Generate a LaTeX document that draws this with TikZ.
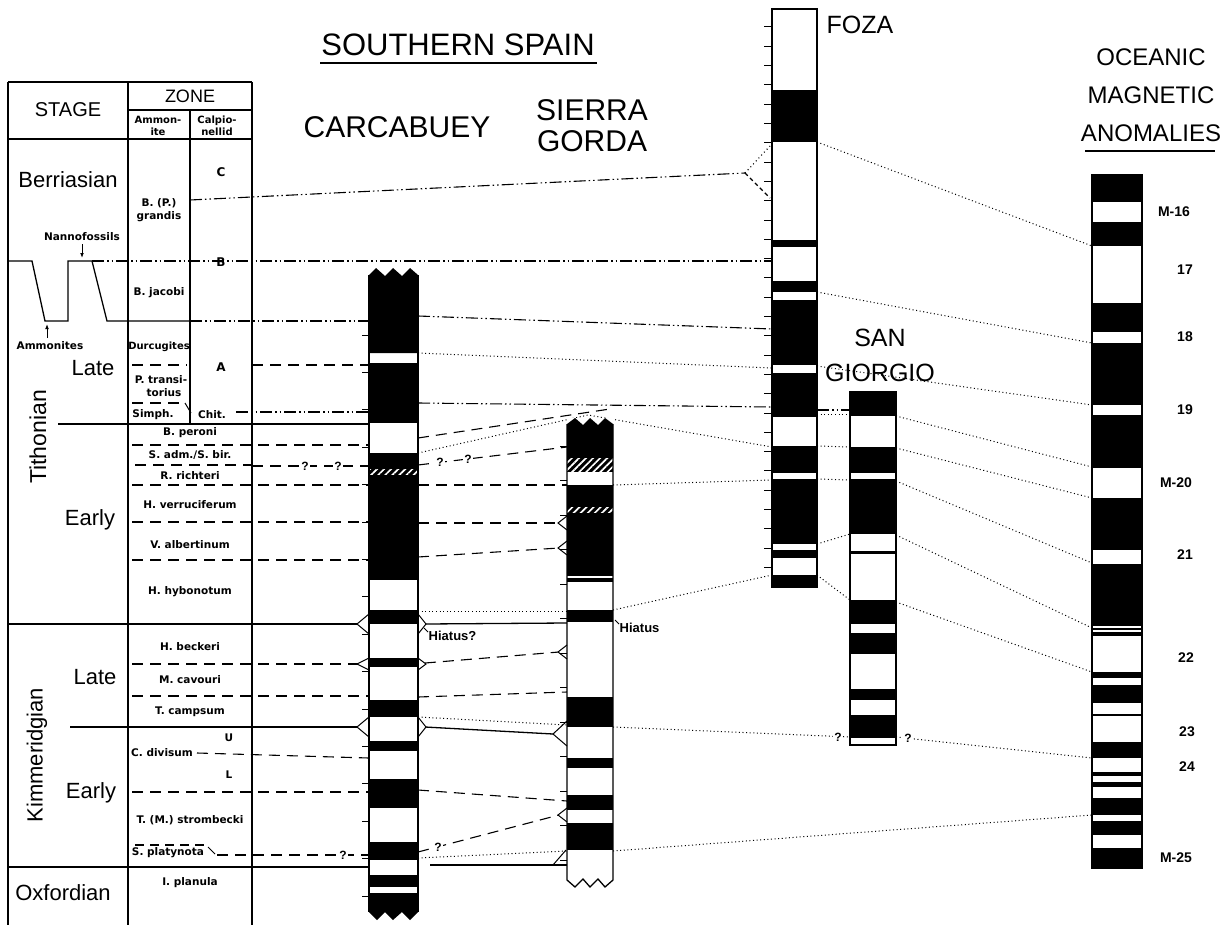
\documentclass[tikz,border=0pt]{standalone}
\usepackage{fontspec}
\setmainfont{Liberation Sans}
\newfontfamily\zonefont{DejaVu Sans}
\usetikzlibrary{arrows.meta, patterns.meta}

\begin{document}
\begin{tikzpicture}[
    x=1pt, y=-1pt,
    rule/.style={line width=1.5pt},
    stageline/.style={line width=1.3pt},
    zoneline/.style={line width=1.1pt, dash pattern=on 11pt off 7pt},
    calpline/.style={line width=1.1pt, dash pattern=on 12pt off 3pt on 1.5pt off 3pt on 1.5pt off 3pt},
    magline/.style={line width=1pt, dash pattern=on 1pt off 2.6pt},
    colrule/.style={line width=1.3pt},
    tick/.style={line width=1pt},
    hatch/.style={pattern={Lines[angle=45, distance=5pt, line width=1.7pt]}, pattern color=white},
    head/.style={font=\fontsize{30}{31}\selectfont, inner sep=0pt, align=center},
    stage/.style={font=\fontsize{22}{24}\selectfont, inner sep=0pt},
    zone/.style={font=\zonefont\bfseries\fontsize{10.5}{13}\selectfont, inner sep=0.5pt, align=center},
    calp/.style={font=\zonefont\bfseries\fontsize{12}{14}\selectfont, inner sep=0pt},
    anom/.style={font=\bfseries\fontsize{14}{16}\selectfont, inner sep=0pt},
    qmark/.style={font=\bfseries\fontsize{12}{12}\selectfont, inner sep=1pt, fill=white},
    every node/.style={inner sep=1pt}
]
\useasboundingbox (0,0) rectangle (1225,931);

% Titles
\node[head, font=\fontsize{31}{32}\selectfont] (spain) at (458,45) {SOUTHERN SPAIN};
\draw[line width=1.3pt] (320,63) -- (597,63);
\node[head] (carcabuey) at (397,127) {CARCABUEY};
\node[head] (sierra) at (592,126) {SIERRA\\GORDA};
\node[head, font=\fontsize{25}{26}\selectfont] (foza) at (860,25) {FOZA};
\node[head, font=\fontsize{25}{35}\selectfont] (giorgio) at (880,355) {SAN\\GIORGIO};
\node[head, font=\fontsize{24}{38}\selectfont] (oceanic) at (1151,95) {OCEANIC\\MAGNETIC\\ANOMALIES};
\draw[line width=1.3pt] (1085,151) -- (1215,151);

% Stage / zone table
\draw[rule] (8,82) -- (252,82);
\draw[rule] (8,82) -- (8,925);
\draw[rule] (128,82) -- (128,925);
\draw[rule] (252,82) -- (252,925);
\draw[rule] (128,110) -- (252,110);
\draw[rule] (190,110) -- (190,424);
\draw[rule] (8,139) -- (252,139);
\node[font=\fontsize{20}{22}\selectfont, inner sep=0pt] (stagehd) at (68,110) {STAGE};
\node[font=\fontsize{18}{20}\selectfont, inner sep=0pt] (zonehd) at (190,96) {ZONE};
\node[zone, font=\zonefont\bfseries\fontsize{10}{12}\selectfont] (ammhd) at (158,126) {Ammon-\\ite};
\node[zone, font=\zonefont\bfseries\fontsize{10}{12}\selectfont] (calphd) at (217,126) {Calpio-\\nellid};

% Stage names
\node[stage] (berr) at (68,180) {Berriasian};
\node[stage] (tlate) at (93,368) {Late};
\node[stage] (tearly) at (90,520) {Early};
\node[stage, rotate=90, font=\fontsize{23}{24}\selectfont] (tith) at (38,437) {Tithonian};
\node[stage] (klate) at (95,677) {Late};
\node[stage] (kearly) at (91,793) {Early};
\node[stage, rotate=90] (kimm) at (37,755) {Kimmeridgian};
\node[stage] (oxf) at (63,893) {Oxfordian};

% Calpionellid zones
\node[calp] (zc) at (221,172) {C};
\node[calp] (zb) at (221,262) {B};
\node[calp] (za) at (221,367) {A};
\node[zone] (chit) at (212,415) {Chit.};

% Ammonite zones
\node[zone] (grandis) at (159,210) {B. (P.)\\grandis};
\node[zone] (jacobi) at (159,293) {B. jacobi};
\node[zone, font=\zonefont\bfseries\fontsize{10}{13}\selectfont] (durc) at (159,347) {Durcugites};
\node[zone] (transi) at (161,386) {P. transi-\\\hspace*{6pt}torius};
\node[zone] (simph) at (153,415) {Simph.};
\node[zone] (peroni) at (190,433) {B. peroni};
\node[zone] (sadm) at (190,455) {S. adm./S. bir.};
\node[zone] (richteri) at (190,476) {R. richteri};
\node[zone] (verru) at (190,505) {H. verruciferum};
\node[zone] (albert) at (190,545) {V. albertinum};
\node[zone] (hybo) at (190,592) {H. hybonotum};
\node[zone] (becker) at (190,647) {H. beckeri};
\node[zone] (cavour) at (190,680) {M. cavouri};
\node[zone] (campsum) at (190,712) {T. campsum};
\node[zone] (divisum) at (162,753) {C. divisum};
\node[zone] (zu) at (229,738) {U};
\node[zone] (zl) at (229,775) {L};
\node[zone] (strombecki) at (190,820) {T. (M.) strombecki};
\node[zone] (platy) at (168,853) {S. platynota};
\node[zone] (planula) at (190,883) {I. planula};

% Nannofossil / ammonite boundary
\draw[stageline] (8,261) -- (32,261) -- (45,321) -- (68,321) -- (68,261) -- (92,261) -- (107,321) -- (190,321);
\node[zone] (nanno) at (82,237) {Nannofossils};
\draw[-{Latex[length=5pt]}, line width=1pt] (82,244) -- (82,258);
\node[zone] (ammo) at (50,346) {Ammonites};
\draw[-{Latex[length=5pt]}, line width=1pt] (47,338) -- (47,324);

% Stage boundaries
\draw[stageline] (58,424) -- (369,424);
\draw[stageline] (8,624) -- (357,624);
\draw[stageline] (70,727) -- (357,727);
\draw[stageline] (8,867) -- (369,867);

% Calpionellid boundaries
\draw[calpline] (190,200) -- (745,173);
\draw[calpline, dash pattern=on 1pt off 3pt] (745,173) -- (770,146);
\draw[calpline, dash pattern=on 4pt off 3pt] (745,173) -- (770,198);
\draw[calpline] (92,261) -- (772,261);
\draw[calpline] (190,321) -- (369,321);
\draw[calpline] (418,316) -- (772,329);
\draw[calpline] (236,412) -- (369,412);
\draw[calpline] (418,403) -- (772,407);
\draw[calpline] (817,410) -- (850,410);

% Ammonite zone boundaries, table to Carcabuey
\draw[zoneline] (132,365) -- (187,365);
\draw[zoneline] (252,365) -- (369,365);
\draw[zoneline] (132,403) -- (185,403);
\draw[line width=1pt] (185,403) -- (191,413);
\draw[zoneline] (132,445) -- (369,445);
\draw[zoneline] (135,465) -- (252,465);
\draw[zoneline] (252,466) -- (369,466);
\node[qmark] (q1) at (305,466) {?};
\node[qmark] (q2) at (338,466) {?};
\draw[zoneline] (132,485) -- (369,485);
\draw[zoneline] (132,522) -- (369,522);
\draw[zoneline] (132,560) -- (369,560);
\draw[zoneline] (132,664) -- (358,664);
\draw[zoneline] (132,696) -- (369,696);
\draw[zoneline] (197,753) -- (369,758);
\draw[zoneline] (132,792) -- (369,792);
\draw[zoneline, dash pattern=on 9pt off 6pt] (135,845) -- (205,845);
\draw[line width=1pt] (208,847) -- (215,854);
\draw[zoneline] (217,855) -- (369,855);
\node[qmark] (q3) at (343,855) {?};

% Carcabuey to Sierra Gorda and Foza
\draw[magline] (418,353) -- (772,368);
\draw[zoneline] (418,438) -- (610,409);
\draw[magline] (418,453) -- (588,415) -- (772,447);
\draw[zoneline] (418,465) -- (567,447);
\node[qmark] (q4) at (440,462) {?};
\node[qmark] (q5) at (468,459) {?};
\draw[zoneline] (418,485) -- (567,485);
\draw[zoneline] (418,523) -- (559,523);
\draw[zoneline] (418,557) -- (559,548);
\draw[magline] (418,611) -- (567,611);
\draw[stageline] (425,624) -- (567,623);
\draw[zoneline] (425,663) -- (559,652);
\draw[zoneline] (418,697) -- (567,692);
\draw[magline] (418,717) -- (567,725);
\draw[stageline] (425,727) -- (553,734);
\draw[zoneline] (418,790) -- (567,801);
\draw[zoneline] (418,852) -- (559,815);
\node[qmark] (q6) at (438,847) {?};
\draw[magline] (418,858) -- (567,851);
\draw[stageline] (430,865) -- (567,865);
\draw[line width=1pt] (553,865) -- (566,850);

% Sierra Gorda to Foza, San Giorgio and anomalies
\draw[magline] (613,485) -- (772,480);
\draw[magline] (613,610) -- (772,575);
\draw[magline] (613,727) -- (850,737);
\node[qmark] (q7) at (838,737) {?};
\draw[magline] (896,737) -- (1092,758);
\node[qmark] (q8) at (908,738) {?};
\draw[magline] (613,851) -- (1092,815);

% Foza to San Giorgio and anomalies
\draw[magline] (817,142) -- (1092,246);
\draw[magline] (817,292) -- (1092,343);
\draw[magline] (817,366) -- (1092,405);
\draw[magline] (817,414) -- (850,414);
\draw[magline] (896,416) -- (1092,467);
\draw[magline] (817,446) -- (850,447);
\draw[magline] (896,448) -- (1092,498);
\draw[magline] (817,479) -- (850,480);
\draw[magline] (896,481) -- (1092,563);
\draw[magline] (817,544) -- (850,534);
\draw[magline] (896,535) -- (1092,628);
\draw[magline] (817,575) -- (850,600);
\draw[magline] (896,602) -- (1092,672);

% Carcabuey section
\fill[white] (369,270) rectangle (418,915);
\fill (369,275) -- (376,268) -- (385,276) -- (393,268) -- (402,276) -- (410,268) -- (418,275) -- (418,353) -- (369,353) -- cycle;
\foreach \a/\b in {363/423, 453/580, 610/624, 658/667, 700/717, 741/751, 779/808, 842/860, 875/887}
    \fill (369,\a) rectangle (418,\b);
\fill (369,893) -- (418,893) -- (418,912) -- (410,920) -- (402,912) -- (393,920) -- (385,912) -- (377,920) -- (369,912) -- cycle;
\fill[hatch] (369,469) rectangle (418,474);
\draw[colrule] (369,275) -- (369,912);
\draw[colrule] (418,275) -- (418,912);
\foreach \y in {335,372.4,...,900}
    \draw[tick] (362,\y) -- (369,\y);
\foreach \y/\h in {624/10, 664/6, 727/10} {
    \draw[line width=1pt] (369,\y-\h) -- (357,\y) -- (369,\y+\h);
    \draw[line width=1pt] (418,\y-\h) -- (426,\y) -- (418,\y+\h);
}
\draw[line width=0.8pt] (424,628) -- (428,632);
\node[zone, font=\bfseries\fontsize{13}{14}\selectfont, anchor=west] (hiatus1) at (428,636) {Hiatus?};

% Sierra Gorda section
\fill[white] (567,418) rectangle (613,880);
\fill (567,424) -- (575,418) -- (583,425) -- (590,418) -- (598,425) -- (605,418) -- (613,424) -- (613,458) -- (567,458) -- cycle;
\fill (567,458) rectangle (613,472);
\fill[hatch] (567,458) rectangle (613,472);
\foreach \a/\b in {485/576, 578/582, 610/622, 697/727, 758/768, 795/810, 823/850}
    \fill (567,\a) rectangle (613,\b);
\fill[hatch] (567,507) rectangle (613,512);
\draw[colrule] (567,424) -- (567,880) -- (575,887) -- (583,879) -- (590,887) -- (598,879) -- (605,887) -- (613,880) -- (613,424);
\foreach \y in {446,480.5,...,860}
    \draw[tick] (560,\y) -- (567,\y);
\foreach \y in {523,548,652,815}
    \draw[line width=1pt] (567,\y-7) -- (558,\y) -- (567,\y+7);
\draw[line width=1pt] (567,721) -- (553,734) -- (567,746);
\draw[line width=0.8pt] (615,620) -- (619,624);
\node[zone, font=\bfseries\fontsize{13}{14}\selectfont, anchor=west] (hiatus2) at (619,628) {Hiatus};

% Foza section
\draw[colrule, fill=white] (772,9) rectangle (817,587);
\foreach \a/\b in {90/142, 240/247, 281/292, 300/365, 373/417, 446/473, 479/544, 550/558, 575/587}
    \fill (772,\a) rectangle (817,\b);
\foreach \y in {27,46.3,...,570}
    \draw[tick] (764,\y) -- (772,\y);

% San Giorgio section
\draw[colrule, fill=white] (850,392) rectangle (896,745);
\foreach \a/\b in {392/416, 447/473, 479/534, 551/554, 600/624, 633/654, 689/700, 715/738}
    \fill (850,\a) rectangle (896,\b);

% Oceanic magnetic anomalies
\draw[colrule, fill=white] (1092,175) rectangle (1142,868);
\foreach \a/\b in {175/202, 222/246, 303/332, 343/405, 415/468, 498/550, 564/626, 628/630, 632/636, 672/678, 685/703, 714/716, 742/758, 772/776, 782/787, 798/815, 821/835, 848/868}
    \fill (1092,\a) rectangle (1142,\b);
\node[anom] (m16) at (1174,212) {M-16};
\node[anom] (m17) at (1185,270) {17};
\node[anom] (m18) at (1185,337) {18};
\node[anom] (m19) at (1185,410) {19};
\node[anom] (m20) at (1176,483) {M-20};
\node[anom] (m21) at (1185,555) {21};
\node[anom] (m22) at (1186,658) {22};
\node[anom] (m23) at (1187,732) {23};
\node[anom] (m24) at (1187,767) {24};
\node[anom] (m25) at (1176,858) {M-25};

\end{tikzpicture}
\end{document}
